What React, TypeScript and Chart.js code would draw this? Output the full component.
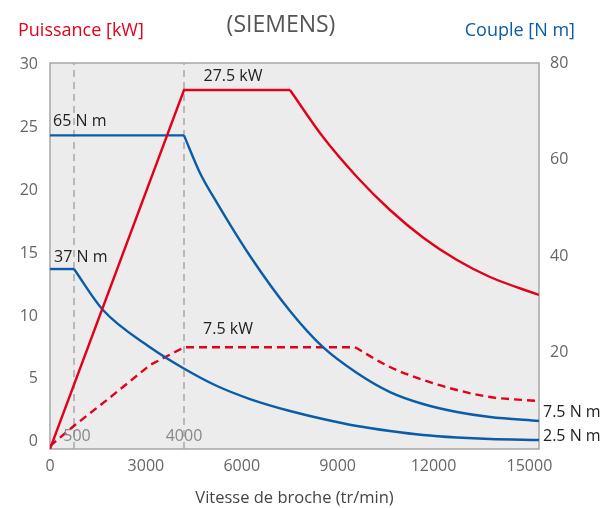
import React, { useEffect, useRef } from "react";
import { Chart, registerables } from "chart.js";

Chart.register(...registerables);

const FONT = "'Open Sans', 'Noto Sans', sans-serif";
const RED = "#e3001b";
const BLUE = "#0a5ca8";

// Axis ticks
const xTicks = [0, 3000, 6000, 9000, 12000, 15000];
const powerTicks = [0, 5, 10, 15, 20, 25, 30];
const torqueTicks = [20, 40, 60, 80];

// Base-speed markers (rpm) and their labels
const markerSpeeds = [751, 4193];
const markerLabels = ["500", "4000"];

// Power S1 27.5 kW (kW)
const p275RiseSpeed = [0, 4193, 7509];
const p275Rise = [-0.6, 28.0, 28.0];
const p275FallSpeed = [7509, 8542, 9605, 10638, 11670, 12734, 13767, 15300];
const p275Fall = [28.0, 24.25, 21.07, 18.44, 16.25, 14.45, 13.1, 11.67];

// Power 7.5 kW (kW, dashed)
const p75RiseSpeed = [0, 782, 1783, 3129, 4193, 9543];
const p75Rise = [-0.36, 1.31, 3.31, 6.09, 7.5, 7.5];
const p75FallSpeed = [9543, 10638, 11670, 12734, 13767, 15300];
const p75Fall = [7.5, 5.93, 4.9, 4.1, 3.54, 3.22];

// Torque 65 N m
const t65FlatSpeed = [0, 4193];
const t65Flat = [65, 65];
const t65FallSpeed = [4193, 4693, 5225, 6258, 7509, 8542, 9605, 10638, 11670, 12734, 13767, 15300];
const t65Fall = [65, 57.2, 51.0, 40.0, 28.6, 21.1, 15.75, 11.8, 9.33, 7.67, 6.63, 5.8];

// Torque 37 N m
const t37FlatSpeed = [0, 751];
const t37Flat = [37.3, 37.3];
const t37FallSpeed = [751, 1658, 3129, 4161, 5225, 6258, 7509, 8542, 9605, 10638, 11670, 12734, 13767, 15300];
const t37Fall = [37.3, 28.8, 21.1, 16.8, 13.06, 10.36, 7.88, 6.22, 4.77, 3.73, 2.9, 2.38, 2.07, 1.87];

const pts = (xs: number[], ys: number[]) => xs.map((x, i) => ({ x, y: ys[i] }));

const P_MIN = -0.6;
const P_MAX = 30.15;

export default function App() {
  const ref = useRef<HTMLCanvasElement | null>(null);

  useEffect(() => {
    document.body.style.margin = "0";
    const canvas = ref.current;
    if (!canvas) return;

    const decor = {
      id: "decor",
      beforeDraw(chart: any) {
        const { ctx, chartArea: a } = chart;
        ctx.save();
        ctx.fillStyle = "#ececec";
        ctx.fillRect(a.left, a.top, a.right - a.left, a.bottom - a.top);
        ctx.restore();
      },
      beforeDatasetsDraw(chart: any) {
        const { ctx, chartArea: a } = chart;
        ctx.save();
        ctx.strokeStyle = "#a6a6a6";
        ctx.lineWidth = 1.5;
        ctx.strokeRect(a.left, a.top, a.right - a.left, a.bottom - a.top);
        ctx.restore();
      },
      afterDraw(chart: any) {
        const { ctx } = chart;
        const xs = chart.scales.x;
        const yp = chart.scales.yP;
        const yt = chart.scales.yT;
        const txt = (s: string, x: number, y: number, color: string, size: number, align: CanvasTextAlign) => {
          ctx.save();
          ctx.font = `${size}px ${FONT}`;
          ctx.fillStyle = color;
          ctx.textAlign = align;
          ctx.textBaseline = "middle";
          ctx.fillText(s, x, y);
          ctx.restore();
        };
        txt("Puissance [kW]", 18, 31, RED, 18, "left");
        txt("(SIEMENS)", 281, 25, "#555", 23, "center");
        txt("Couple [N m]", 575, 31, BLUE, 18, "right");
        txt("27.5 kW", xs.getPixelForValue(5726), yp.getPixelForValue(29.11), "#222", 16, "center");
        txt("7.5 kW", xs.getPixelForValue(5569), yp.getPixelForValue(8.96), "#222", 16, "center");
        txt("65 N m", xs.getPixelForValue(94), yt.getPixelForValue(67.8), "#222", 16, "left");
        txt("37 N m", xs.getPixelForValue(125), yt.getPixelForValue(39.6), "#222", 16, "left");
        txt("7.5 N m", xs.getPixelForValue(15425), yt.getPixelForValue(7.67), "#222", 16, "left");
        txt("2.5 N m", xs.getPixelForValue(15425), yt.getPixelForValue(2.7), "#222", 16, "left");
        const lx = [845, 4193];
        markerLabels.forEach((l, i) => {
          txt(l, xs.getPixelForValue(lx[i]), yp.getPixelForValue(0.44), "#888", 16, "center");
        });
      },
    };

    const line = (data: any[], color: string, axis: string, curved: boolean, dashed: boolean) => ({
      data,
      borderColor: color,
      backgroundColor: color,
      borderWidth: 2.4,
      borderDash: dashed ? [8, 5] : [],
      pointRadius: 0,
      fill: false,
      yAxisID: axis,
      tension: 0,
      cubicInterpolationMode: curved ? "monotone" : "default",
    });

    const markerSets = markerSpeeds.map((s) => ({
      data: [
        { x: s, y: P_MIN },
        { x: s, y: P_MAX },
      ],
      borderColor: "#a8a8a8",
      borderWidth: 1.5,
      borderDash: [7, 5],
      pointRadius: 0,
      fill: false,
      yAxisID: "yP",
      tension: 0,
    }));

    const chart = new Chart(canvas, {
      type: "line",
      data: {
        datasets: [
          line(pts(p275RiseSpeed, p275Rise), RED, "yP", false, false),
          line(pts(p275FallSpeed, p275Fall), RED, "yP", true, false),
          line(pts(t65FlatSpeed, t65Flat), BLUE, "yT", false, false),
          line(pts(t65FallSpeed, t65Fall), BLUE, "yT", true, false),
          line(pts(t37FlatSpeed, t37Flat), BLUE, "yT", false, false),
          line(pts(t37FallSpeed, t37Fall), BLUE, "yT", true, false),
          line(pts(p75RiseSpeed, p75Rise), RED, "yP", false, true),
          line(pts(p75FallSpeed, p75Fall), RED, "yP", true, true),
          ...markerSets,
        ] as any,
      },
      options: {
        responsive: false,
        animation: false,
        events: [],
        layout: { padding: { top: 63, left: 0, right: 0, bottom: 0 } },
        plugins: {
          legend: { display: false },
          tooltip: { enabled: false },
          title: { display: false },
        },
        scales: {
          x: {
            type: "linear",
            min: 0,
            max: 15300,
            afterBuildTicks: (s: any) => {
              s.ticks = xTicks.map((v) => ({ value: v }));
            },
            afterFit: (s: any) => {
              s.height = 59;
            },
            grid: { display: false, drawTicks: false },
            border: { display: false },
            ticks: {
              color: "#666",
              font: { family: FONT, size: 16 },
              padding: 8,
              maxRotation: 0,
              callback: (v: any) => String(v),
            },
            title: {
              display: true,
              text: "Vitesse de broche (tr/min)",
              color: "#444",
              font: { family: FONT, size: 16.5 },
              padding: { top: 0, bottom: 0 },
            },
          },
          yP: {
            type: "linear",
            position: "left",
            min: P_MIN,
            max: P_MAX,
            afterBuildTicks: (s: any) => {
              s.ticks = powerTicks.map((v) => ({ value: v }));
            },
            afterFit: (s: any) => {
              s.width = 50;
            },
            grid: { display: false, drawTicks: false },
            border: { display: false },
            ticks: {
              color: "#666",
              font: { family: FONT, size: 16 },
              padding: 12,
              callback: (v: any) => String(v),
            },
          },
          yT: {
            type: "linear",
            position: "right",
            min: 0,
            max: 80,
            afterBuildTicks: (s: any) => {
              s.ticks = torqueTicks.map((v) => ({ value: v }));
            },
            afterFit: (s: any) => {
              s.width = 66;
            },
            grid: { display: false, drawTicks: false },
            border: { display: false },
            ticks: {
              color: "#666",
              font: { family: FONT, size: 16 },
              padding: 11,
              callback: (v: any) => String(v),
            },
          },
        },
      } as any,
      plugins: [decor],
    });

    return () => chart.destroy();
  }, []);

  return (
    <div style={{ width: 605, height: 508 }}>
      <canvas ref={ref} width={605} height={508} style={{ display: "block" }} />
    </div>
  );
}
